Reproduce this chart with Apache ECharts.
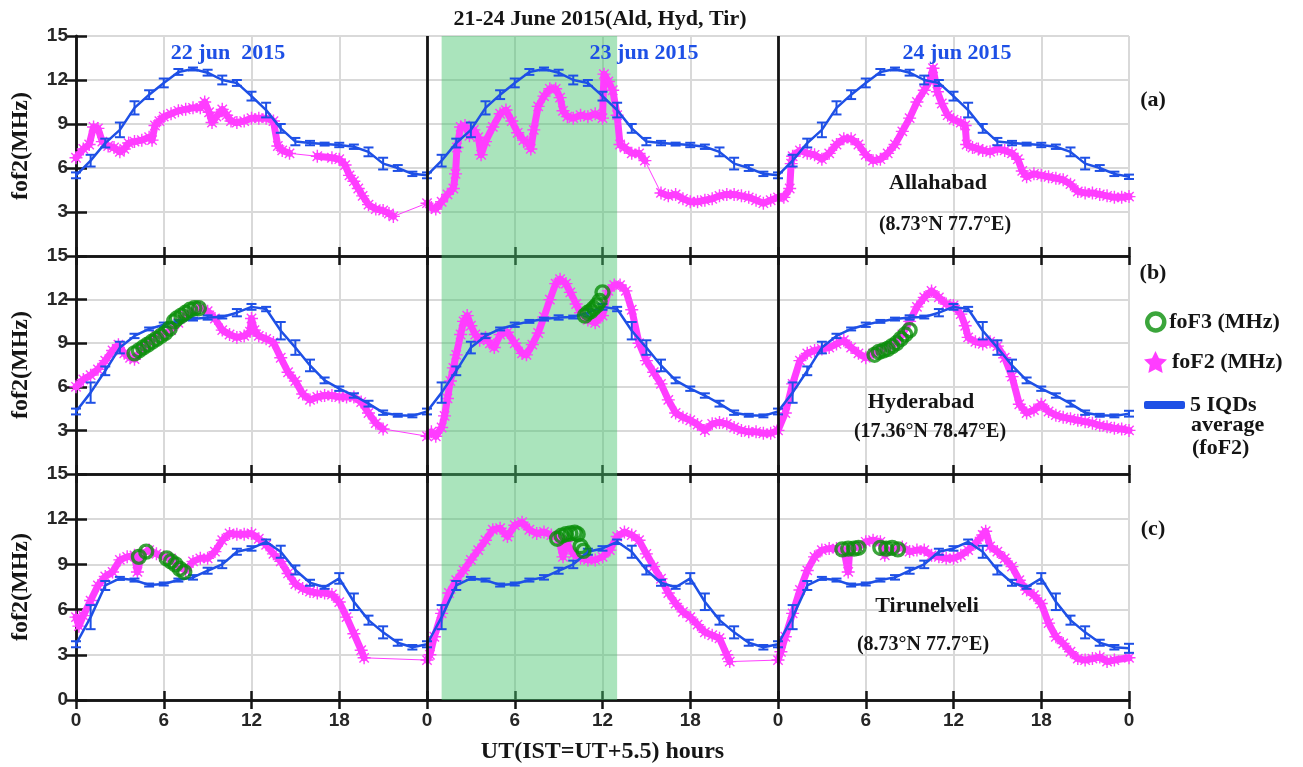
<!DOCTYPE html>
<html><head><meta charset="utf-8">
<script src="https://cdn.jsdelivr.net/npm/echarts@6/dist/echarts.min.js"></script>
<style>html,body{margin:0;padding:0;background:#fff}#c{width:1303px;height:767px}</style>
</head><body><div id="c"></div>
<script>
// ---------- DATA ----------
const dayLabels = ['22 jun  2015', '23 jun 2015', '24 jun 2015'];
const stationNames = ['Allahabad', 'Hyderabad', 'Tirunelveli'];
const stationCoords = ['(8.73°N 77.7°E)', '(17.36°N 78.47°E)', '(8.73°N 77.7°E)'];
const panelTags = ['(a)', '(b)', '(c)'];
const shadeRange = [25, 37];
const separators = [24, 48];

// 5 IQDs average (hours 0..24) and error half-widths
const aldIQD = [5.5,6.5,7.7,8.6,10.1,11.0,11.8,12.55,12.75,12.5,12.0,11.8,10.9,9.95,8.7,7.8,7.7,7.63,7.57,7.45,7.1,6.3,6.0,5.6,5.4];
const aldErr = [0.2,0.4,0.3,0.5,0.45,0.3,0.3,0.2,0.1,0.2,0.3,0.2,0.3,0.5,0.3,0.25,0.15,0.1,0.15,0.15,0.3,0.4,0.2,0.15,0.15];
const hydIQD = [4.3,5.6,7.1,8.7,9.5,9.98,10.27,10.5,10.66,10.77,10.8,11.1,11.5,11.35,9.86,8.7,7.47,6.44,5.87,5.4,4.84,4.22,4.04,4.0,4.15];
const hydErr = [0.2,0.7,0.3,0.4,0.15,0.1,0.15,0.1,0.1,0.15,0.1,0.25,0.2,0.15,0.6,0.5,0.4,0.2,0.15,0.15,0.2,0.15,0.1,0.1,0.2];
const tirIQD = [3.7,5.5,7.6,8.07,7.96,7.63,7.7,7.96,8.14,8.58,9.0,9.84,10.06,10.5,9.84,8.63,7.78,7.48,8.07,6.52,5.3,4.49,3.8,3.5,3.43];
const tirErr = [0.2,0.8,0.3,0.1,0.1,0.1,0.1,0.1,0.15,0.2,0.25,0.2,0.15,0.15,0.4,0.3,0.2,0.1,0.35,0.55,0.3,0.4,0.2,0.15,0.3];

// foF2 observations [hour of day, MHz]
const ald1 = [[0,6.7],[0.5,7.3],[0.9,7.6],[1.2,8.8],[1.5,8.7],[1.8,7.8],[2.2,7.5],[2.6,7.4],[3,7.1],[3.3,7.3],[3.6,7.7],[4,7.8],[4.5,7.9],[5,8.1],[5.2,7.9],[5.4,8.9],[5.7,9.2],[6,9.5],[6.5,9.7],[7,9.9],[7.5,10.0],[8,10.1],[8.5,10.1],[8.8,10.5],[9.1,9.8],[9.3,9.1],[9.6,9.5],[10,10.0],[10.3,9.6],[10.6,9.2],[11,9.1],[11.5,9.2],[12,9.4],[12.5,9.4],[13,9.4],[13.5,9.2],[13.8,7.5],[14.1,7.2],[14.6,7.0],[16.5,6.8],[17.5,6.7],[18,6.6],[18.4,6.2],[18.7,5.5],[19,5.1],[19.3,4.6],[19.6,4.1],[20,3.5],[20.5,3.2],[21,3.1],[21.4,2.9],[21.7,2.7]];
const ald2 = [[0,3.6],[0.3,3.3],[0.6,3.2],[1,3.7],[1.4,4.2],[1.8,4.6],[1.95,5.6],[2.05,7.4],[2.3,8.8],[2.6,8.9],[2.9,8.2],[3.2,8.6],[3.5,8.1],[3.7,6.9],[4,7.8],[4.5,8.8],[5,9.7],[5.4,9.95],[5.8,9.2],[6.2,8.4],[6.6,7.9],[6.9,7.7],[7.1,7.3],[7.3,8.6],[7.6,10.2],[8,10.9],[8.4,11.4],[8.8,11.4],[9.1,10.8],[9.3,9.9],[9.6,9.5],[10,9.4],[10.5,9.6],[11,9.5],[11.5,9.7],[12,9.4],[12.1,12.4],[12.4,11.9],[12.7,11.3],[13,9.6],[13.2,7.6],[13.5,7.4],[14,7.0],[14.5,7.0],[14.9,6.5],[16,4.3],[16.5,4.1],[17,4.2],[17.5,3.9],[18,3.7],[18.5,3.7],[19,3.8],[19.5,3.9],[20,4.1],[20.5,4.2],[21,4.2],[21.5,4.1],[22,4.0],[22.5,3.8],[23,3.6],[23.5,3.8]];
const ald3 = [[0,4.0],[0.4,4.0],[0.8,4.6],[0.9,6.3],[1,6.8],[1.5,7.2],[2,7.0],[2.5,6.9],[3,6.6],[3.5,7.0],[4,7.6],[4.5,8.0],[5,8.0],[5.5,7.6],[6,6.9],[6.5,6.5],[7,6.6],[7.5,7.0],[8,7.6],[8.5,8.5],[9,9.4],[9.5,10.5],[10,11.3],[10.4,12.0],[10.6,12.8],[10.9,11.2],[11.2,10.4],[11.6,9.6],[12,9.3],[12.5,9.1],[12.8,8.9],[12.9,7.6],[13.3,7.4],[13.7,7.3],[14,7.2],[14.5,7.1],[15,7.3],[15.5,7.2],[16,7.0],[16.4,6.6],[16.7,5.8],[17,5.4],[17.5,5.6],[18,5.5],[18.5,5.4],[19,5.3],[19.5,5.2],[20,4.9],[20.5,4.4],[21,4.3],[21.5,4.3],[22,4.2],[22.5,4.1],[23,4.0],[23.5,4.0],[24,4.05]];
const hyd1 = [[0,6.0],[0.5,6.5],[1,6.8],[1.5,7.2],[2,7.8],[2.5,8.5],[2.9,8.9],[3.3,8.3],[3.7,8.0],[4,7.9],[4.5,8.6],[5,9.05],[5.5,9.5],[6,9.6],[6.5,9.9],[7,10.4],[7.5,10.9],[8,11.2],[8.5,11.45],[9,11.2],[9.5,10.7],[10,9.9],[10.5,9.6],[11,9.4],[11.5,9.5],[11.9,9.8],[12,10.7],[12.2,9.9],[12.5,9.5],[13,9.3],[13.5,9.05],[14,8.0],[14.5,7.0],[15,6.4],[15.5,5.5],[16,5.1],[16.5,5.3],[17,5.4],[17.5,5.4],[18,5.3],[18.5,5.3],[19,5.3],[19.5,4.95],[20,4.2],[20.5,3.5],[21,3.1]];
const hyd2 = [[0,2.6],[0.3,2.9],[0.6,2.6],[1,3.2],[1.2,4.0],[1.4,5.2],[1.6,6.4],[1.8,7.3],[2,8.2],[2.3,9.6],[2.5,10.5],[2.75,10.9],[3,10.2],[3.3,9.6],[3.6,9.2],[4,9.4],[4.3,9.0],[4.6,8.7],[5,9.6],[5.5,9.75],[6,9.0],[6.5,8.3],[6.8,8.2],[7.2,8.9],[7.6,9.7],[8,10.8],[8.4,12.0],[8.8,13.1],[9.1,13.4],[9.5,13.1],[9.8,12.5],[10.2,11.7],[10.5,11.1],[11,10.6],[11.5,10.4],[12,10.9],[12.4,12.6],[12.8,13.0],[13.2,13.0],[13.6,12.6],[14,11.3],[14.5,9.0],[15,7.8],[15.5,7.0],[16,6.2],[16.5,5.1],[17,4.2],[17.5,3.9],[18,3.7],[18.5,3.4],[19,3.0],[19.5,3.45],[20,3.55],[20.5,3.45],[21,3.2],[21.5,3.0],[22,2.9],[22.5,2.9],[23,2.8],[23.5,2.8]];
const hyd3 = [[0,3.0],[0.5,4.2],[1,6.2],[1.5,7.8],[2,8.3],[2.5,8.5],[3,8.6],[3.5,8.7],[4,8.95],[4.5,9.2],[5,8.7],[5.5,8.3],[6,8.0],[6.5,8.3],[7,8.5],[7.5,8.7],[8,8.95],[8.5,9.6],[9,10.5],[9.5,11.5],[10,12.15],[10.5,12.6],[11,12.15],[11.5,11.7],[12,11.6],[12.5,11.0],[12.8,10.2],[13,9.4],[13.5,9.1],[14,8.95],[14.5,9.1],[15,8.8],[15.5,8.0],[16,6.7],[16.5,4.8],[17,4.2],[17.5,4.4],[18,4.8],[18.5,4.3],[19,4.05],[19.5,3.9],[20,3.8],[20.5,3.7],[21,3.6],[21.5,3.5],[22,3.35],[22.5,3.25],[23,3.15],[23.5,3.1],[24,3.0]];
const tir1 = [[0,5.5],[0.2,4.9],[0.5,5.6],[1,6.6],[1.5,7.6],[2,8.2],[2.5,8.5],[3,9.3],[3.5,9.5],[4,9.6],[4.2,8.5],[4.5,9.7],[5,9.95],[5.5,9.7],[6,9.5],[6.5,9.4],[7,8.85],[7.5,8.6],[8,9.2],[8.5,9.4],[9,9.4],[9.5,9.85],[10,10.6],[10.5,11.05],[11,11.0],[11.5,11.0],[12,11.05],[12.5,10.7],[13,10.3],[13.5,9.7],[14,9.2],[14.5,8.4],[15,7.7],[15.5,7.4],[16,7.2],[16.5,7.1],[17,7.1],[17.5,7.0],[18,6.5],[18.5,5.5],[19,4.4],[19.5,3.3],[19.7,2.8]];
const tir2 = [[0,2.65],[0.2,3.0],[0.5,4.2],[1,5.75],[1.5,7.1],[2,7.95],[2.5,8.6],[3,9.3],[3.5,9.95],[4,10.6],[4.5,11.3],[5,11.4],[5.5,10.85],[6,11.6],[6.5,11.8],[7,11.3],[7.5,11.05],[8,11.15],[8.5,10.95],[9,10.7],[9.3,9.5],[9.5,10.5],[10,9.7],[10.5,9.4],[11,9.3],[11.5,9.3],[12,9.5],[12.5,9.95],[13,10.85],[13.5,11.15],[14,10.95],[14.5,10.6],[15,9.7],[15.5,8.85],[16,8.05],[16.5,7.1],[17,6.4],[17.5,5.85],[18,5.5],[18.5,5.0],[19,4.5],[19.5,4.3],[20,4.1],[20.5,3.0],[20.7,2.55]];
const tir3 = [[0,2.65],[0.2,3.2],[0.5,4.2],[1,5.75],[1.5,7.3],[2,8.6],[2.5,9.5],[3,9.95],[3.5,10.05],[4,10.05],[4.5,9.95],[4.8,8.5],[4.9,9.9],[5,10.05],[5.5,10.15],[6,10.5],[6.5,10.6],[7,10.5],[7.3,9.6],[7.5,9.95],[8,9.95],[8.5,10.15],[9,9.85],[9.5,9.95],[10,9.95],[10.5,9.6],[11,9.5],[11.5,9.4],[12,9.4],[12.5,9.6],[13,9.95],[13.5,10.4],[14,10.95],[14.2,11.2],[14.5,10.2],[15,9.85],[15.5,9.4],[16,8.85],[16.5,7.95],[17,7.3],[17.5,6.95],[18,6.4],[18.5,5.1],[19,4.2],[19.5,3.75],[20,3.2],[20.5,2.75],[21,2.65],[21.5,2.75],[22,2.85],[22.5,2.55],[23,2.65],[24,2.8]];

// foF3 observations [hour of day, MHz]
const hydF3d1 = [[4.0,8.3],[4.3,8.5],[4.6,8.7],[4.9,8.9],[5.2,9.1],[5.5,9.3],[5.8,9.5],[6.1,9.7],[6.4,10.0],[6.7,10.5],[6.9,10.7],[7.2,10.9],[7.5,11.1],[7.8,11.3],[8.1,11.4],[8.4,11.4]];
const hydF3d2 = [[10.8,10.9],[11.0,11.1],[11.2,11.2],[11.4,11.4],[11.6,11.6],[11.8,11.9],[12.0,12.5]];
const hydF3d3 = [[6.6,8.2],[6.9,8.4],[7.2,8.5],[7.5,8.6],[7.8,8.8],[8.1,9.0],[8.4,9.3],[8.7,9.6],[9.0,9.9]];
const tirF3d1 = [[4.3,9.5],[4.8,9.85],[6.2,9.4],[6.5,9.2],[6.8,9.0],[7.1,8.7],[7.4,8.5]];
const tirF3d2 = [[8.9,10.7],[9.2,10.9],[9.5,11.0],[9.8,11.05],[10.1,11.1],[10.3,11.0],[10.5,10.2],[10.7,9.9]];
const tirF3d3 = [[4.4,10.0],[4.8,10.05],[5.2,10.05],[5.5,10.1],[7.0,10.1],[7.4,10.05],[7.8,10.1],[8.2,10.0]];

// ---------- BUILD ----------
const BLUE = '#1e50e6', PINK = '#ff3dff', GREEN = '#0a8f0a', INK = '#151515';
const SERIF = '"Liberation Serif","Times New Roman",serif';
const SANS = '"Liberation Sans",Arial,sans-serif';
const NAME_F2 = 'foF2 (MHz)', NAME_F3 = 'foF3 (MHz)', NAME_IQD = '5 IQDs average (foF2)';

function joinDays(days) { const out = []; days.forEach((d, i) => d.forEach(p => out.push([p[0] + 24 * i, p[1]]))); return out; }
// same points, but broken wherever the sampling has a gap (used for the dense band look)
function breakGaps(pts) { const out = []; pts.forEach((p, k) => { if (k > 0 && p[0] - pts[k - 1][0] > 1.05) out.push(null); out.push(p); }); return out; }
function tile(prof) { const out = []; for (let d = 0; d < 3; d++) for (let h = 0; h < 24; h++) out.push([24 * d + h, prof[h]]); out.push([72, prof[24]]); return out; }
function tileErr(prof, err) { const out = []; for (let d = 0; d < 3; d++) for (let h = 0; h < 24; h++) out.push([24 * d + h, prof[h] - err[h], prof[h] + err[h]]); out.push([72, prof[24] - err[24], prof[24] + err[24]]); return out; }

const rows = [
  { iqd: aldIQD, err: aldErr, f2: [ald1, ald2, ald3], f3: null },
  { iqd: hydIQD, err: hydErr, f2: [hyd1, hyd2, hyd3], f3: [hydF3d1, hydF3d2, hydF3d3] },
  { iqd: tirIQD, err: tirErr, f2: [tir1, tir2, tir3], f3: [tirF3d1, tirF3d2, tirF3d3] }
];
const gridBoxes = [
  { left: 76, top: 36, width: 1053, height: 220 },
  { left: 76, top: 256, width: 1053, height: 218 },
  { left: 76, top: 474, width: 1053, height: 226 }
];

const axisLine = { show: true, lineStyle: { color: INK, width: 2.5 } };
const splitLine = { show: true, lineStyle: { color: '#d9d9d9', width: 2 } };
const xAxes = [], yAxes = [], series = [];
const asterisk = 'path://M0,-5L0,5M-5,0L5,0M-3.6,-3.6L3.6,3.6M-3.6,3.6L3.6,-3.6';

rows.forEach((r, i) => {
  xAxes.push({
    gridIndex: i, type: 'value', min: 0, max: 72, interval: 6, position: 'bottom',
    axisLine, axisTick: { show: true, inside: true, length: 9, lineStyle: { color: INK, width: 2.5 } },
    axisLabel: { show: i === 2, formatter: v => String(v % 24), fontSize: 19, fontWeight: 'bold', fontFamily: SANS, color: '#262626', margin: 11 },
    splitLine,
    name: i === 2 ? 'UT(IST=UT+5.5) hours' : '', nameLocation: 'middle', nameGap: 40,
    nameTextStyle: { fontFamily: SERIF, fontWeight: 'bold', fontSize: 24, color: INK }
  });
  xAxes.push({
    gridIndex: i, type: 'value', min: 0, max: 72, interval: 6, position: 'top',
    axisLine, axisTick: { show: true, inside: true, length: 9, lineStyle: { color: INK, width: 2.5 } },
    axisLabel: { show: false }, splitLine: { show: false }
  });
  yAxes.push({
    gridIndex: i, type: 'value', min: 0, max: 15, interval: 3, position: 'left',
    axisLine, axisTick: { show: true, inside: true, length: 11, lineStyle: { color: INK, width: 2.5 } },
    axisLabel: { formatter: v => (i < 2 && v === 0) ? '' : String(v), fontSize: 19, fontWeight: 'bold', fontFamily: SANS, color: '#262626', margin: 8 },
    splitLine,
    name: 'fof2(MHz)', nameLocation: 'middle', nameRotate: 90, nameGap: 43,
    nameTextStyle: { fontFamily: SERIF, fontWeight: 'bold', fontSize: 24, color: INK }
  });
  yAxes.push({
    gridIndex: i, type: 'value', min: 0, max: 15, interval: 3, position: 'right',
    axisLine, axisTick: { show: true, inside: true, length: 11, lineStyle: { color: INK, width: 2.5 } },
    axisLabel: { show: false }, splitLine: { show: false }
  });
  const xi = 2 * i, yi = 2 * i;
  const f2pts = joinDays(r.f2);
  // shading + separators
  series.push({
    type: 'line', xAxisIndex: xi, yAxisIndex: yi, data: [[0, -1]], showSymbol: false, silent: true,
    lineStyle: { opacity: 0 }, z: 1,
    markArea: { silent: true, itemStyle: { color: 'rgba(70,196,110,0.46)' }, data: [[{ xAxis: shadeRange[0] }, { xAxis: shadeRange[1] }]] },
    markLine: { silent: true, symbol: ['none', 'none'], label: { show: false }, lineStyle: { color: INK, width: 2.8, type: 'solid' },
      data: separators.map(s => ({ xAxis: s })) }
  });
  // foF2 dense band (continuous stretches only)
  series.push({
    type: 'line', xAxisIndex: xi, yAxisIndex: yi, data: breakGaps(f2pts), connectNulls: false,
    showSymbol: false, symbol: 'none', silent: true, lineStyle: { color: PINK, width: 7, join: 'round', cap: 'round' }, z: 3
  });
  // foF2 observations
  series.push({
    name: NAME_F2, type: 'line', xAxisIndex: xi, yAxisIndex: yi, data: f2pts,
    symbol: asterisk, symbolSize: 13, showAllSymbol: true,
    lineStyle: { color: PINK, width: 1 },
    itemStyle: { color: PINK, borderColor: PINK, borderWidth: 1.4 },
    emphasis: { disabled: true }, z: 3
  });
  // foF3
  if (r.f3) series.push({
    name: NAME_F3, type: 'scatter', xAxisIndex: xi, yAxisIndex: yi, data: joinDays(r.f3),
    symbol: 'circle', symbolSize: 13,
    itemStyle: { color: 'rgba(0,0,0,0)', borderColor: GREEN, borderWidth: 3.4 },
    emphasis: { disabled: true }, z: 5
  });
  // IQD average line
  series.push({
    name: NAME_IQD, type: 'line', xAxisIndex: xi, yAxisIndex: yi, data: tile(r.iqd),
    showSymbol: false, symbol: 'none', lineStyle: { color: BLUE, width: 2.5 }, itemStyle: { color: BLUE },
    emphasis: { disabled: true }, z: 4
  });
  // error bars
  series.push({
    type: 'custom', xAxisIndex: xi, yAxisIndex: yi, data: tileErr(r.iqd, r.err), silent: true, z: 4,
    encode: { x: 0, y: [1, 2] },
    renderItem: (params, api) => {
      const x = api.value(0), lo = api.coord([x, api.value(1)]), hi = api.coord([x, api.value(2)]);
      const w = 5, st = { stroke: BLUE, lineWidth: 2 };
      return { type: 'group', children: [
        { type: 'line', shape: { x1: lo[0], y1: lo[1], x2: hi[0], y2: hi[1] }, style: st },
        { type: 'line', shape: { x1: lo[0] - w, y1: lo[1], x2: lo[0] + w, y2: lo[1] }, style: st },
        { type: 'line', shape: { x1: hi[0] - w, y1: hi[1], x2: hi[0] + w, y2: hi[1] }, style: st }
      ] };
    }
  });
});

const legendText = { fontFamily: SERIF, fontWeight: 'bold', fontSize: 22, color: INK };
const legends = [
  { data: [NAME_F3], left: 1140, top: 306, icon: 'circle', itemWidth: 17, itemHeight: 17, itemGap: 0,
    itemStyle: { color: 'rgba(0,0,0,0)', borderColor: GREEN, borderWidth: 4.5 }, textStyle: legendText, selectedMode: false },
  { data: [NAME_F2], left: 1139, top: 346, icon: 'path://M0,-10L2.9,-4L9.5,-3.1L4.7,1.5L5.9,8.1L0,5L-5.9,8.1L-4.7,1.5L-9.5,-3.1L-2.9,-4Z',
    itemWidth: 23, itemHeight: 22, itemStyle: { color: PINK, borderWidth: 0 }, textStyle: legendText, selectedMode: false },
  { data: [NAME_IQD], left: 1139, top: 389, icon: 'roundRect', itemWidth: 41, itemHeight: 8,
    itemStyle: { color: BLUE, borderWidth: 0 }, formatter: () => '5 IQDs', textStyle: legendText, selectedMode: false }
];

function txt(text, x, y, size, color, align) {
  return { type: 'text', x, y, z: 100, silent: true,
    style: { text, font: 'bold ' + size + 'px ' + SERIF, fill: color || INK, align: align || 'center', verticalAlign: 'middle' } };
}
const graphics = [
  txt('21-24 June 2015(Ald, Hyd, Tir)', 600, 19, 22),
  txt(dayLabels[0], 228, 53, 22, BLUE),
  txt(dayLabels[1], 644, 53, 22, BLUE),
  txt(dayLabels[2], 957, 53, 22, BLUE),
  txt(stationNames[0], 938, 183, 22),
  txt(stationCoords[0], 945, 225, 20),
  txt(stationNames[1], 921, 402, 22),
  txt(stationCoords[1], 930, 432, 20),
  txt(stationNames[2], 927, 606, 22),
  txt(stationCoords[2], 923, 645, 20),
  txt(panelTags[0], 1153, 100, 22),
  txt(panelTags[1], 1153, 273, 22),
  txt(panelTags[2], 1153, 529, 22),
  txt('average', 1191, 425, 22, INK, 'left'),
  txt('(foF2)', 1192, 448, 22, INK, 'left')
];

const chart = echarts.init(document.getElementById('c'), null, { renderer: 'canvas' });
chart.setOption({
  animation: false,
  backgroundColor: '#fff',
  grid: gridBoxes,
  xAxis: xAxes,
  yAxis: yAxes,
  legend: legends,
  series,
  graphic: graphics
});
</script>
</body></html>
